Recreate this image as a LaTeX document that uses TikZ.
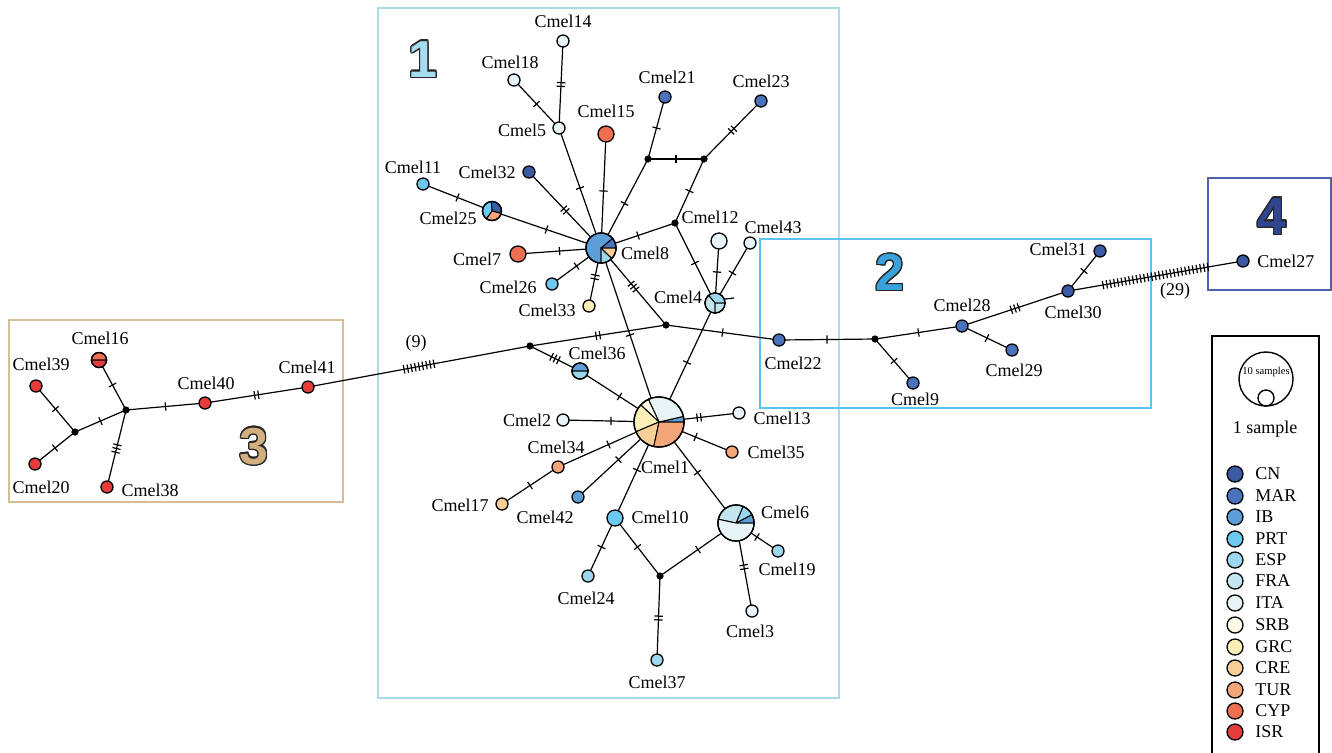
\documentclass[tikz,border=0pt]{standalone}
\usepackage{fontspec}
\setmainfont{Liberation Serif}
\newfontfamily\numfont{Liberation Sans}
\usepackage{contour}
\contourlength{0.7pt}
\usetikzlibrary{decorations.markings,backgrounds}
\definecolor{kCN}{HTML}{3B5AA6}
\definecolor{kMAR}{HTML}{4A73BD}
\definecolor{kIB}{HTML}{5C9FD8}
\definecolor{kPRT}{HTML}{6CCAF0}
\definecolor{kESP}{HTML}{9BD7EE}
\definecolor{kFRA}{HTML}{C2E5EF}
\definecolor{kITA}{HTML}{E8F5F8}
\definecolor{kSRB}{HTML}{FBFBE6}
\definecolor{kGRC}{HTML}{FBEFB7}
\definecolor{kCRE}{HTML}{F8CF96}
\definecolor{kTUR}{HTML}{F3A677}
\definecolor{kCYP}{HTML}{EE6F52}
\definecolor{kISR}{HTML}{E83B3B}
\definecolor{boxone}{HTML}{A9DCE6}
\definecolor{boxtwo}{HTML}{5CC3EC}
\definecolor{boxthree}{HTML}{D8BE98}
\definecolor{boxfour}{HTML}{5060AE}
\definecolor{numone}{HTML}{A6DCF0}
\definecolor{numtwo}{HTML}{3AA2DA}
\definecolor{numthree}{HTML}{D2AF7E}
\definecolor{numfour}{HTML}{2F4592}
\newcommand\mypie[3]{%
  \foreach \a/\b/\c in {#3}{%
    \filldraw[fill=\c,draw=black,line width=0.5pt] (#1.center) -- ++(-\a:#2) arc[start angle=-\a,end angle=-\b,radius=#2] -- cycle;}%
  \draw[line width=0.65pt] (#1.center) circle[radius=#2];}
\tikzset{
  hap/.style={circle,draw=black,line width=0.65pt,inner sep=0pt,minimum size=#1pt},
  jn/.style={circle,fill=black,inner sep=0pt,minimum size=3.6pt},
  lab/.style={inner sep=0pt,font=\fontsize{9}{10}\selectfont},
  numlab/.style={inner sep=0pt,font=\numfont\bfseries\fontsize{26}{26}\selectfont},
  ed/.style={line width=0.6pt},
  bx/.style={line width=0.75pt},
  ticks/.style={postaction={decorate,decoration={markings,mark=at position 0.5 with {\foreach \k in {1,...,#1}{\draw[line width=0.6pt] ({(\k-(#1+1)/2)*1.9pt},-2.1pt) -- ({(\k-(#1+1)/2)*1.9pt},2.1pt);}}}}},
  ticks/.default=1
}
\begin{document}
\begin{tikzpicture}[x=0.5pt,y=-0.5pt]
\useasboundingbox (0,0) rectangle (1332,752);
% ---- cluster 3
\node[hap=7.5,fill=white] (c16) at (99,360) {};
\node[hap=6,fill=kISR] (c39) at (36,386) {};
\node[hap=6,fill=kISR] (c20) at (35,464) {};
\node[hap=6,fill=kISR] (c38) at (107,487) {};
\node[hap=6,fill=kISR] (c40) at (205,403) {};
\node[hap=6,fill=kISR] (c41) at (308,387) {};
\node[jn] (ja) at (75,432) {};
\node[jn] (jb) at (126,410) {};
\node[jn] (j9) at (530,346) {};
% ---- cluster 1
\node[hap=6,fill=kITA] (c14) at (563,41) {};
\node[hap=6,fill=kITA] (c18) at (514,80) {};
\node[hap=6,fill=kITA] (c5) at (559,128) {};
\node[hap=8,fill=kCYP] (c15) at (606,134) {};
\node[hap=6,fill=kPRT] (c11) at (423,184) {};
\node[hap=9.5,fill=white] (c25) at (492,211) {};
\node[hap=6,fill=kCN] (c32) at (529,172) {};
\node[hap=8,fill=kCYP] (c7) at (518,254) {};
\node[hap=6,fill=kPRT] (c26) at (552,284) {};
\node[hap=6,fill=kGRC] (c33) at (589,306) {};
\node[hap=15,fill=white] (c8) at (601,248) {};
\node[hap=6,fill=kMAR] (c21) at (665,97) {};
\node[hap=6,fill=kMAR] (c23) at (761,101) {};
\node[jn] (j1) at (648,159) {};
\node[jn] (j2) at (704,159) {};
\node[jn] (j12) at (675,223) {};
\node[hap=8,fill=kITA] (c12) at (719,241) {};
\node[hap=6,fill=kITA] (c43) at (750,243) {};
\node[hap=10,fill=white] (c4) at (715,303) {};
\node[jn] (j3) at (666,325) {};
\node[hap=8,fill=white] (c36) at (580,371) {};
\node[hap=6,fill=kITA] (c2) at (563,420) {};
\node[hap=25,fill=white] (c1) at (659,422) {};
\node[hap=6,fill=kITA] (c13) at (739,413) {};
\node[hap=6,fill=kTUR] (c35) at (732,452) {};
\node[hap=6,fill=kTUR] (c34) at (558,467) {};
\node[hap=6,fill=kCRE] (c17) at (502,504) {};
\node[hap=6,fill=kIB] (c42) at (578,497) {};
\node[hap=8,fill=kPRT] (c10) at (615,518) {};
\node[hap=6,fill=kESP] (c24) at (588,576) {};
\node[jn] (j10) at (660,576) {};
\node[hap=6,fill=kESP] (c37) at (657,660) {};
\node[hap=18,fill=white] (c6) at (736,523) {};
\node[hap=6,fill=kESP] (c19) at (778,551) {};
\node[hap=6,fill=kITA] (c3) at (752,611) {};
% ---- cluster 2 and 4
\node[hap=6,fill=kMAR] (c22) at (779,340) {};
\node[jn] (j22) at (875,339) {};
\node[hap=6,fill=kMAR] (c9) at (913,383) {};
\node[hap=6,fill=kMAR] (c28) at (962,326) {};
\node[hap=6,fill=kMAR] (c29) at (1012,350) {};
\node[hap=6,fill=kCN] (c30) at (1068,291) {};
\node[hap=6,fill=kCN] (c31) at (1100,251) {};
\node[hap=6,fill=kCN] (c27) at (1243,261) {};
% ---- pies
\mypie{c16}{7.5}{0/180/kCYP,180/360/kISR}
\mypie{c36}{8}{0/180/kIB,180/360/kESP}
\mypie{c25}{9.5}{-15/95/kCN,95/235/kPRT,235/345/kTUR}
\mypie{c8}{15}{0/40/kMAR,40/270/kIB,270/316/kESP,316/360/kCRE}
\mypie{c4}{10}{0/130/kESP,130/270/kFRA,270/360/kFRA}
\mypie{c1}{25}{0/13/kIB,13/115/kITA,115/137/kSRB,137/203/kGRC,203/258/kCRE,258/360/kTUR}
\mypie{c6}{18}{0/28/kIB,28/67/kESP,67/168/kFRA,168/360/kITA}
% ---- boxes and edges
\begin{pgfonlayer}{background}
\draw[bx,boxone] (378,8) rectangle (839,698);
\draw[bx,boxtwo] (760,239) rectangle (1151,408);
\draw[bx,boxthree] (9,320) rectangle (343,502);
\draw[bx,boxfour] (1208,178) rectangle (1331,290);
\draw[ed,ticks=1] (c39.center) -- (ja.center);
\draw[ed,ticks=1] (c20.center) -- (ja.center);
\draw[ed,ticks=1] (ja.center) -- (jb.center);
\draw[ed,ticks=1] (c16.center) -- (jb.center);
\draw[ed,ticks=3] (c38.center) -- (jb.center);
\draw[ed,ticks=1] (jb.center) -- (c40.center);
\draw[ed,ticks=2] (c40.center) -- (c41.center);
\draw[ed,ticks=9] (c41.center) -- (j9.center);
\draw[ed,ticks=2] (j9.center) -- (j3.center);
\draw[ed,ticks=3] (j9.center) -- (c36.center);
\draw[ed,ticks=1] (c36.center) -- (c1.center);
\draw[ed,ticks=3] (j3.center) -- (c8.center);
\draw[ed,ticks=1] (j3.center) -- (c22.center);
\draw[ed,ticks=2] (c14.center) -- (c5.center);
\draw[ed,ticks=1] (c18.center) -- (c5.center);
\draw[ed,ticks=1] (c5.center) -- (c8.center);
\draw[ed,ticks=1] (c15.center) -- (c8.center);
\draw[ed,ticks=1] (c11.center) -- (c25.center);
\draw[ed,ticks=1] (c25.center) -- (c8.center);
\draw[ed,ticks=2] (c32.center) -- (c8.center);
\draw[ed,ticks=1] (c7.center) -- (c8.center);
\draw[ed,ticks=1] (c26.center) -- (c8.center);
\draw[ed,ticks=2] (c33.center) -- (c8.center);
\draw[ed,ticks=1] (c8.center) -- (c1.center);
\draw[ed,ticks=1] (c21.center) -- (j1.center);
\draw[ed,ticks=1] (j1.center) -- (j2.center);
\draw[ed,ticks=2] (j2.center) -- (c23.center);
\draw[ed,ticks=1] (j1.center) -- (c8.center);
\draw[ed,ticks=1] (j2.center) -- (j12.center);
\draw[ed,ticks=1] (j12.center) -- (c8.center);
\draw[ed,ticks=1] (j12.center) -- (c4.center);
\draw[ed,ticks=1] (c12.center) -- (c4.center);
\draw[ed,ticks=1] (c43.center) -- (c4.center);
\draw[ed,ticks=1] (c4.center) -- (c1.center);
\draw[ed,ticks=1] (c2.center) -- (c1.center);
\draw[ed,ticks=1] (c34.center) -- (c1.center);
\draw[ed,ticks=1] (c17.center) -- (c34.center);
\draw[ed,ticks=1] (c42.center) -- (c1.center);
\draw[ed,ticks=1] (c10.center) -- (c1.center);
\draw[ed,ticks=2] (c13.center) -- (c1.center);
\draw[ed,ticks=1] (c35.center) -- (c1.center);
\draw[ed,ticks=1] (c6.center) -- (c1.center);
\draw[ed,ticks=1] (c10.center) -- (c24.center);
\draw[ed,ticks=1] (c10.center) -- (j10.center);
\draw[ed,ticks=1] (j10.center) -- (c6.center);
\draw[ed,ticks=2] (j10.center) -- (c37.center);
\draw[ed,ticks=1] (c6.center) -- (c19.center);
\draw[ed,ticks=2] (c6.center) -- (c3.center);
\draw[ed,ticks=1] (c22.center) -- (j22.center);
\draw[ed,ticks=1] (j22.center) -- (c9.center);
\draw[ed,ticks=1] (j22.center) -- (c28.center);
\draw[ed,ticks=1] (c28.center) -- (c29.center);
\draw[ed,ticks=3] (c28.center) -- (c30.center);
\draw[ed,ticks=1] (c30.center) -- (c31.center);
\draw[ed,ticks=29] (c30.center) -- (c27.center);
\end{pgfonlayer}
\draw[ed] (c4.center) ++(10,-4) -- ++(9,-1);
% ---- labels
\node[lab] (l16) at (100,338) {Cmel16};
\node[lab] (l39) at (41,364) {Cmel39};
\node[lab] (l40) at (206,383) {Cmel40};
\node[lab] (l41) at (307,367) {Cmel41};
\node[lab] (l20) at (41,487) {Cmel20};
\node[lab] (l38) at (150,490) {Cmel38};
\node[lab] (n9) at (416,343) {(9)};
\node[lab] (l14) at (563,21) {Cmel14};
\node[lab] (l18) at (510,62) {Cmel18};
\node[lab] (l5) at (522,130) {Cmel5};
\node[lab] (l15) at (606,111) {Cmel15};
\node[lab] (l11) at (413,167) {Cmel11};
\node[lab] (l25) at (448,218) {Cmel25};
\node[lab] (l32) at (487,172) {Cmel32};
\node[lab] (l7) at (477,259) {Cmel7};
\node[lab] (l26) at (508,287) {Cmel26};
\node[lab] (l33) at (547,310) {Cmel33};
\node[lab] (l8) at (645,253) {Cmel8};
\node[lab] (l21) at (667,77) {Cmel21};
\node[lab] (l23) at (761,81) {Cmel23};
\node[lab] (l12) at (710,217) {Cmel12};
\node[lab] (l43) at (773,227) {Cmel43};
\node[lab] (l4) at (678,297) {Cmel4};
\node[lab] (l36) at (597,353) {Cmel36};
\node[lab] (l2) at (527,420) {Cmel2};
\node[lab] (l13) at (782,418) {Cmel13};
\node[lab] (l35) at (776,452) {Cmel35};
\node[lab] (l1) at (665,467) {Cmel1};
\node[lab] (l34) at (556,447) {Cmel34};
\node[lab] (l17) at (460,505) {Cmel17};
\node[lab] (l42) at (545,517) {Cmel42};
\node[lab] (l10) at (660,517) {Cmel10};
\node[lab] (l24) at (586,598) {Cmel24};
\node[lab] (l37) at (657,682) {Cmel37};
\node[lab] (l6) at (785,512) {Cmel6};
\node[lab] (l19) at (787,569) {Cmel19};
\node[lab] (l3) at (750,631) {Cmel3};
\node[lab] (l22) at (793,363) {Cmel22};
\node[lab] (l9) at (915,399) {Cmel9};
\node[lab] (l28) at (962,305) {Cmel28};
\node[lab] (l29) at (1014,370) {Cmel29};
\node[lab] (l30) at (1073,312) {Cmel30};
\node[lab] (l31) at (1058,249) {Cmel31};
\node[lab,anchor=west] (l27) at (1257,261) {Cmel27};
\node[lab] (n29) at (1175,291) {(29)};
% ---- cluster numbers
\node[numlab,text=numone] (g1) at (423,60) {\contour{black!85}{1}};
\node[numlab,text=numtwo] (g2) at (890,273) {\contour{black!85}{2}};
\node[numlab,text=numthree] (g3) at (254,447) {\contour{black!85}{3}};
\node[numlab,text=numfour] (g4) at (1272,217) {\contour{black!85}{4}};
% ---- legend
\draw[bx,black] (1212,760) -- (1212,336) -- (1319,336) -- (1319,760);
\node[circle,draw=black,line width=0.7pt,inner sep=0pt,minimum size=27pt] (lgbig) at (1266,379) {};
\node[circle,draw=black,line width=0.7pt,inner sep=0pt,minimum size=8pt] (lgsmall) at (1266,398) {};
\node[inner sep=0pt,font=\fontsize{5.3}{6}\selectfont] (lgten) at (1266,372) {10 samples};
\node[lab] (lgone) at (1265,429) {1 sample};
\foreach \nm/\cl/\yy [count=\i] in {CN/kCN/474,MAR/kMAR/496,IB/kIB/517,PRT/kPRT/539,ESP/kESP/560,FRA/kFRA/581,ITA/kITA/603,SRB/kSRB/625,GRC/kGRC/647,CRE/kCRE/668,TUR/kTUR/690,CYP/kCYP/711,ISR/kISR/732}{
  \node[hap=8,fill=\cl] (lg\i) at (1235,\yy) {};
  \node[lab,anchor=west] (lt\i) at (1255,\yy) {\nm};
}
\end{tikzpicture}
\end{document}
